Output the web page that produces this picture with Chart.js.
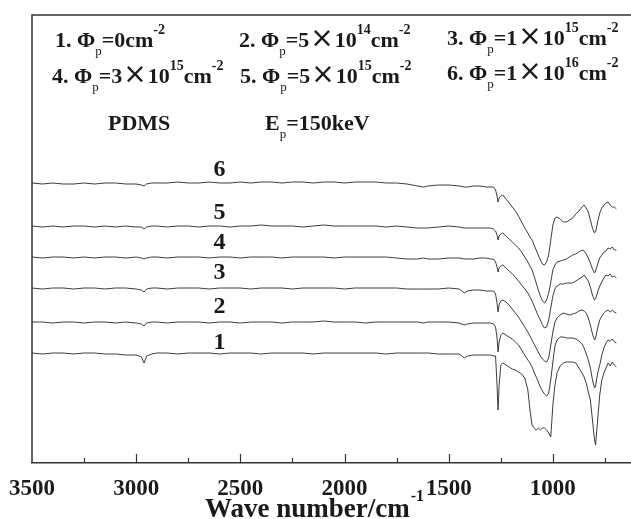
<!DOCTYPE html>
<html>
<head>
<meta charset="utf-8">
<script src="https://cdn.jsdelivr.net/npm/chart.js@4.4.1/dist/chart.umd.min.js"></script>
<style>
  html, body { margin: 0; padding: 0; background: #fff; }
  #chart { display: block; }
</style>
</head>
<body>
<canvas id="chart" width="631" height="519"></canvas>
<script>
// wave numbers (cm-1), flat part and fingerprint part
const wnFlat = [3500,3450,3400,3350,3300,3250,3200,3150,3100,3050,3000,2975,2962,2950,2925,2900,2850,2800,2750,2700,2650,2600,2550,2500,2450,2400,2350,2300,2250,2200,2150,2100,2050,2000,1950,1900,1850,1800,1750,1700,1650,1620,1600,1550,1500,1450,1425,1410,1380,1350,1320,1300,1285];
const wnRight = [1275,1268,1263,1258,1250,1240,1225,1210,1195,1180,1165,1150,1135,1120,1110,1100,1090,1080,1070,1060,1050,1040,1030,1020,1010,1000,990,980,965,950,935,920,905,890,875,860,850,840,830,820,810,800,795,785,775,765,755,745,735,725,715,705,695];
const wavenumbers = wnFlat.concat(wnRight);

// transmittance, arbitrary units (curves offset)
const curve1 = [110,109,110,110,109,110,110,109,109,108,108,106,100,107,109,110,110,109,110,110,110,109,110,110,110,109,110,110,110,110,109,110,110,110,110,110,110,109,110,110,110,110,110,109,109,109,105,107,108,108,108,108,107,
  107,78,53,78,98,100,98,96,94,93,91,89,85,73,53,38,35,33,35,33,35,35,33,30,26,58,78,90,97,100,101,101,101,100,95,90,86,80,71,63,43,23,18,43,68,83,90,95,100,97,101,98,96];
const curve2 = [141,141,140,141,141,140,141,141,140,141,140,139,137,140,141,141,140,141,141,141,140,141,141,140,141,141,141,140,141,141,141,142,141,141,141,140,141,141,141,141,141,140,141,141,141,140,138,139,140,140,140,140,139,
  136,125,111,121,128,130,128,126,124,121,118,113,108,103,100,96,91,86,81,76,72,69,67,70,83,101,117,123,126,126,125,125,125,124,122,119,115,109,103,95,83,75,77,90,98,108,115,120,123,122,124,121,120];
const curve3 = [175,174,175,175,174,175,175,174,175,175,174,173,171,174,175,175,174,175,175,175,174,175,175,175,174,175,175,175,174,175,175,175,175,174,175,175,175,175,175,174,174,174,174,174,175,174,170,172,173,173,172,172,172,
  169,160,151,158,162,163,161,158,154,150,146,141,136,131,127,123,119,115,111,107,104,102,101,105,118,131,141,145,148,150,149,148,149,150,152,153,152,150,145,138,129,123,125,135,143,147,150,152,153,151,153,151,150];
const curve4 = [206,205,206,206,205,206,205,206,206,205,206,205,204,205,206,206,205,206,206,206,205,206,206,205,206,206,206,205,206,206,206,206,205,206,206,206,206,206,205,204,204,205,204,204,205,205,204,204,204,205,205,204,204,
  201,196,191,195,197,198,195,192,189,186,182,178,174,170,166,162,157,152,147,143,138,135,136,143,155,167,174,177,179,179,180,180,180,182,184,186,188,185,182,176,168,163,164,171,177,181,185,188,187,189,186,187,185];
const curve5 = [237,236,237,236,237,237,236,237,236,237,236,236,234,236,237,237,236,237,237,236,237,237,236,237,237,238,237,237,237,236,237,238,237,237,237,237,237,236,237,236,235,235,235,236,237,236,235,235,235,235,235,235,234,
  232,228,223,227,229,230,227,224,221,218,215,211,206,201,197,193,187,180,173,167,162,160,163,170,181,193,198,201,202,203,204,206,208,209,211,213,212,209,205,200,194,190,192,199,205,208,211,212,215,214,216,213,213];
const curve6 = [280,279,280,279,279,280,279,280,280,279,279,278,277,279,280,280,280,281,280,280,281,280,280,281,280,281,281,280,281,281,280,281,281,280,281,281,281,280,280,279,277,276,277,278,278,277,276,276,277,277,276,276,276,
  273,267,261,265,267,268,264,260,256,252,247,241,235,230,226,223,218,213,208,203,199,198,201,208,223,238,245,246,244,241,241,243,245,249,252,256,258,255,251,243,235,230,231,241,250,255,258,260,261,258,256,256,254];

const curves = [curve1, curve2, curve3, curve4, curve5, curve6];
const curveNames = ['1', '2', '3', '4', '5', '6'];
const curveLabelY = [120, 156, 190, 220, 250, 293];
const curveLabelX = 2600;

const xTicks = [3500, 3000, 2500, 2000, 1500, 1000];
const xMinorTicks = [3250, 2750, 2250, 1750, 1250, 750];

const SERIF = '"Liberation Serif", "Times New Roman", serif';
const INK = '#1a1a1a';

// header lines: [text, kind] n=normal, b=subscript, p=superscript, x=times sign
const headerItems = [
  { x: 55, y: 47, parts: [['1. Φ','n'],['p','b'],['=0cm','n'],['-2','p']] },
  { x: 239, y: 47, parts: [['2. Φ','n'],['p','b'],['=5','n'],['×','x'],['10','n'],['14','p'],['cm','n'],['-2','p']] },
  { x: 447, y: 45, parts: [['3. Φ','n'],['p','b'],['=1','n'],['×','x'],['10','n'],['15','p'],['cm','n'],['-2','p']] },
  { x: 52, y: 83, parts: [['4. Φ','n'],['p','b'],['=3','n'],['×','x'],['10','n'],['15','p'],['cm','n'],['-2','p']] },
  { x: 240, y: 83, parts: [['5. Φ','n'],['p','b'],['=5','n'],['×','x'],['10','n'],['15','p'],['cm','n'],['-2','p']] },
  { x: 447, y: 80, parts: [['6. Φ','n'],['p','b'],['=1','n'],['×','x'],['10','n'],['16','p'],['cm','n'],['-2','p']] },
  { x: 108, y: 130, parts: [['PDMS','n']] },
  { x: 265, y: 130, parts: [['E','n'],['p','b'],['=150keV','n']] }
];

function partFont(kind) {
  if (kind === 'b') return '13px ' + SERIF;
  if (kind === 'p') return 'bold 14px ' + SERIF;
  if (kind === 'x') return '28px "DejaVu Sans", sans-serif';
  return 'bold 22px ' + SERIF;
}
function partShift(kind) {
  if (kind === 'b') return 8;
  if (kind === 'p') return -13;
  return 0;
}

function drawRich(ctx, x, y, parts) {
  let cx = x;
  parts.forEach(([t, kind]) => {
    ctx.font = partFont(kind);
    const pad = kind === 'x' ? 1 : 0;
    ctx.fillText(t, cx + pad, y + partShift(kind));
    cx += ctx.measureText(t).width + pad * 2;
  });
}

const decorPlugin = {
  id: 'decor',
  afterDraw(chart) {
    const ctx = chart.ctx;
    const area = chart.chartArea;
    const xs = chart.scales.x;
    const ys = chart.scales.y;
    ctx.save();
    // frame: top and left
    ctx.strokeStyle = '#333';
    ctx.lineWidth = 1.5;
    ctx.beginPath();
    ctx.moveTo(area.left, area.bottom);
    ctx.lineTo(area.left, area.top);
    ctx.lineTo(area.right, area.top);
    ctx.stroke();
    // inside ticks
    ctx.lineWidth = 1.2;
    ctx.beginPath();
    xTicks.slice(1).forEach(v => {
      const px = Math.round(xs.getPixelForValue(v)) + 0.5;
      ctx.moveTo(px, area.bottom);
      ctx.lineTo(px, area.bottom - 9);
    });
    xMinorTicks.forEach(v => {
      const px = Math.round(xs.getPixelForValue(v)) + 0.5;
      ctx.moveTo(px, area.bottom);
      ctx.lineTo(px, area.bottom - 5);
    });
    ctx.stroke();

    ctx.fillStyle = INK;
    ctx.textBaseline = 'alphabetic';
    ctx.textAlign = 'left';
    headerItems.forEach(h => drawRich(ctx, h.x, h.y, h.parts));

    // curve numbers
    ctx.font = 'bold 24px ' + SERIF;
    ctx.textAlign = 'center';
    ctx.textBaseline = 'middle';
    curveNames.forEach((n, i) => {
      ctx.fillText(n, xs.getPixelForValue(curveLabelX), ys.getPixelForValue(curveLabelY[i]));
    });

    // axis title with superscript
    ctx.textAlign = 'left';
    ctx.textBaseline = 'alphabetic';
    const main = 'Wave number/cm';
    const sup = '-1';
    ctx.font = 'bold 27px ' + SERIF;
    const w1 = ctx.measureText(main).width;
    ctx.font = 'bold 16px ' + SERIF;
    const w2 = ctx.measureText(sup).width;
    const x0 = 314 - (w1 + w2) / 2;
    ctx.font = 'bold 27px ' + SERIF;
    ctx.fillText(main, x0, 517);
    ctx.font = 'bold 16px ' + SERIF;
    ctx.fillText(sup, x0 + w1 + 1, 501);
    ctx.restore();
  }
};

const datasets = curves.map((c, i) => ({
  label: curveNames[i],
  data: wavenumbers.map((w, k) => ({ x: w, y: c[k] })),
  borderColor: '#3c3c3c',
  borderWidth: 1,
  pointRadius: 0,
  tension: 0,
  fill: false
}));

new Chart(document.getElementById('chart').getContext('2d'), {
  type: 'line',
  data: { datasets },
  options: {
    responsive: false,
    animation: false,
    devicePixelRatio: 1,
    layout: { padding: { left: 32, top: 15, right: 0, bottom: 0 } },
    plugins: { legend: { display: false }, tooltip: { enabled: false } },
    scales: {
      x: {
        type: 'linear',
        reverse: true,
        min: 625,
        max: 3500,
        grid: { display: false },
        border: { display: true, color: '#333', width: 1.5 },
        afterBuildTicks: scale => { scale.ticks = xTicks.map(v => ({ value: v })); },
        afterFit: scale => { scale.height = 56; },
        ticks: {
          autoSkip: false,
          maxRotation: 0,
          padding: 4,
          color: INK,
          font: { family: SERIF, size: 23, weight: 'bold' },
          callback: v => String(v)
        }
      },
      y: { display: false, min: 0, max: 448 }
    }
  },
  plugins: [decorPlugin]
});
</script>
</body>
</html>
